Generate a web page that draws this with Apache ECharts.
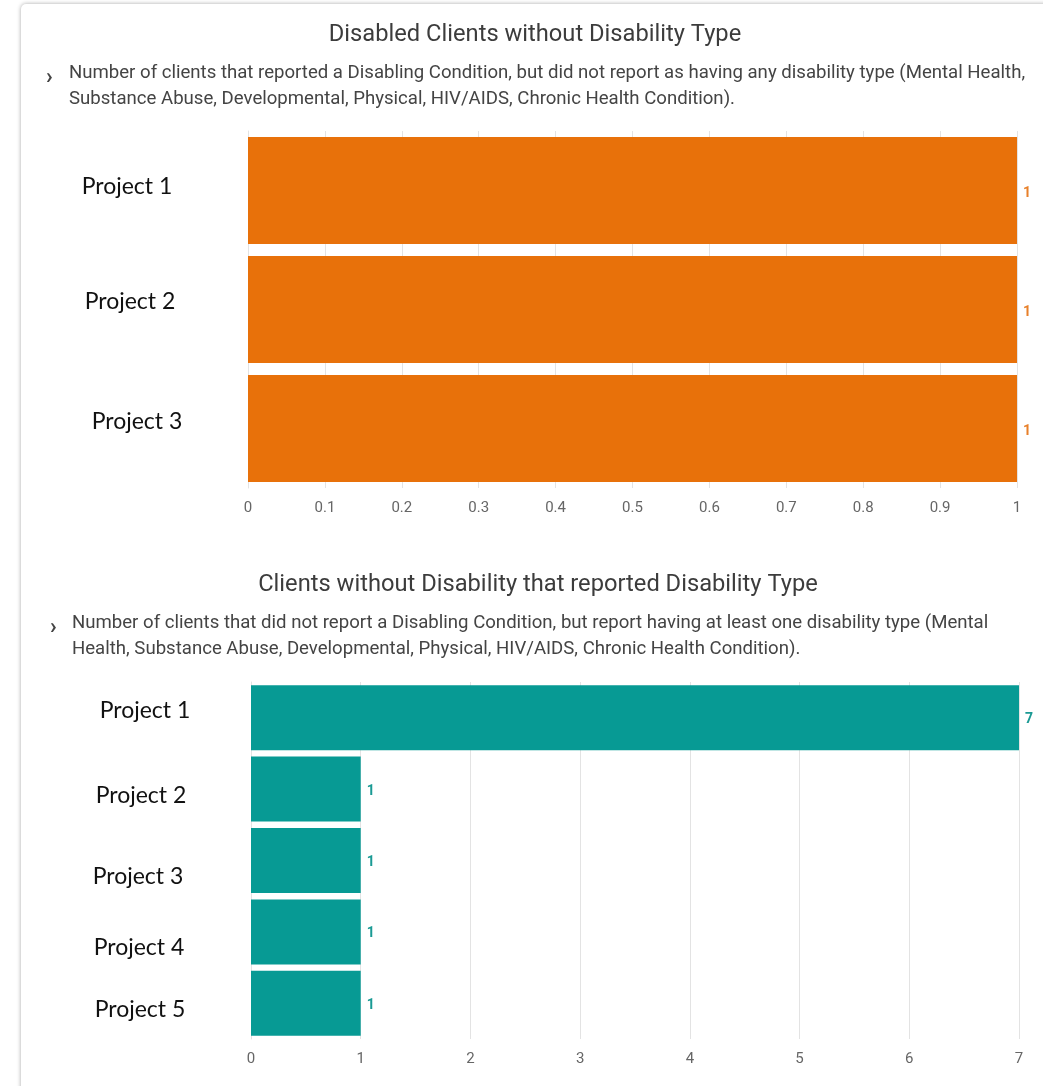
<!DOCTYPE html>
<html>
<head>
<meta charset="utf-8">
<script src="https://cdn.jsdelivr.net/npm/echarts@6/dist/echarts.min.js"></script>
<style>
html,body{margin:0;padding:0;background:#fff;overflow:hidden;}
#card{position:absolute;left:21px;top:4px;width:1060px;height:1120px;background:#fff;border-radius:5px;box-shadow:0 0 4px rgba(0,0,0,0.35);}
#chart{position:absolute;left:0;top:0;width:1043px;height:1086px;}
</style>
</head>
<body>
<div id="card"></div>
<div id="chart"></div>
<script>
const title1 = "Disabled Clients without Disability Type";
const desc1 = "Number of clients that reported a Disabling Condition, but did not report as having any disability type (Mental Health,\nSubstance Abuse, Developmental, Physical, HIV/AIDS, Chronic Health Condition).";
const categories1 = ["Project 1", "Project 2", "Project 3"];
const values1 = [1, 1, 1];
const ticks1 = [0, 0.1, 0.2, 0.3, 0.4, 0.5, 0.6, 0.7, 0.8, 0.9, 1];

const title2 = "Clients without Disability that reported Disability Type";
const desc2 = "Number of clients that did not report a Disabling Condition, but report having at least one disability type (Mental\nHealth, Substance Abuse, Developmental, Physical, HIV/AIDS, Chronic Health Condition).";
const categories2 = ["Project 1", "Project 2", "Project 3", "Project 4", "Project 5"];
const values2 = [7, 1, 1, 1, 1];
const ticks2 = [0, 1, 2, 3, 4, 5, 6, 7];

// label nudges (style only): [dx, dy] per category label
const nudge1 = [[-3, -4], [0, -8], [7, -7]];
const nudge2 = [[4, -7], [0, 6], [-3, 16], [-2, 16], [-1, 6]];

const orange = "#e8710a";
const teal = "#079a94";
const titleFont = "Roboto, 'Noto Sans', sans-serif";

const chart = echarts.init(document.getElementById('chart'), null, {renderer: 'canvas'});

function valueAxis(gridIndex, ticks) {
  return {
    type: 'value', gridIndex: gridIndex,
    min: ticks[0], max: ticks[ticks.length - 1],
    interval: ticks[1] - ticks[0],
    axisLine: {show: false},
    axisTick: {show: false},
    splitLine: {show: true, lineStyle: {color: '#e3e3e3', width: 1}},
    axisLabel: {color: '#666', fontSize: 15, fontFamily: titleFont, margin: 13,
      formatter: function (v) { return String(Math.round(v * 10) / 10); }}
  };
}
function catAxis(gridIndex, cats, center, nudge) {
  const rich = {};
  nudge.forEach(function (n, i) {
    const dx = n[0], dy = n[1];
    rich['r' + i] = {
      color: '#111', fontSize: 23, fontFamily: "Lato, 'Open Sans', sans-serif",
      padding: [dy > 0 ? 2 * dy : 0, dx < 0 ? -2 * dx : 0, dy < 0 ? -2 * dy : 0, dx > 0 ? 2 * dx : 0]
    };
  });
  return {
    type: 'category', gridIndex: gridIndex, data: cats, inverse: true,
    axisLine: {show: true, lineStyle: {color: '#e3e3e3'}},
    axisTick: {show: false},
    axisLabel: {align: 'center', margin: center, rich: rich,
      formatter: function (v, i) { return '{r' + i + '|' + v + '}'; }}
  };
}

chart.setOption({
  animation: false,
  title: [
    {text: title1, left: 530, top: 18, textAlign: 'center',
      textStyle: {fontFamily: titleFont, fontSize: 23.7, fontWeight: 'normal', color: '#3c3c3c'}},
    {text: '›', left: 41, top: 61,
      textStyle: {fontFamily: titleFont, fontSize: 22, fontWeight: 'bold', color: '#444'}},
    {text: desc1, left: 64, top: 55,
      textStyle: {fontFamily: titleFont, fontSize: 18.6, fontWeight: 'normal', color: '#444', lineHeight: 26}},
    {text: title2, left: 533, top: 568, textAlign: 'center',
      textStyle: {fontFamily: titleFont, fontSize: 23.7, fontWeight: 'normal', color: '#3c3c3c'}},
    {text: '›', left: 45, top: 611,
      textStyle: {fontFamily: titleFont, fontSize: 22, fontWeight: 'bold', color: '#444'}},
    {text: desc2, left: 67, top: 605,
      textStyle: {fontFamily: titleFont, fontSize: 18.6, fontWeight: 'normal', color: '#444', lineHeight: 26}}
  ],
  grid: [
    {left: 248, right: 26, top: 131, height: 357, containLabel: false},
    {left: 251, right: 24, top: 682, height: 357, containLabel: false}
  ],
  xAxis: [valueAxis(0, ticks1), valueAxis(1, ticks2)],
  yAxis: [catAxis(0, categories1, 118, nudge1), catAxis(1, categories2, 110, nudge2)],
  series: [
    {type: 'bar', xAxisIndex: 0, yAxisIndex: 0, data: values1, barCategoryGap: '10%',
      itemStyle: {color: orange},
      label: {show: true, position: 'right', distance: 6, offset: [0, 3], color: '#e8802a', fontSize: 14,
        fontWeight: 'bold', fontFamily: titleFont}},
    {type: 'bar', xAxisIndex: 1, yAxisIndex: 1, data: values2, barCategoryGap: '9%',
      itemStyle: {color: teal},
      label: {show: true, position: 'right', distance: 6, offset: [0, 2], color: '#1a9a94', fontSize: 14,
        fontWeight: 'bold', fontFamily: titleFont}}
  ]
});
</script>
</body>
</html>
